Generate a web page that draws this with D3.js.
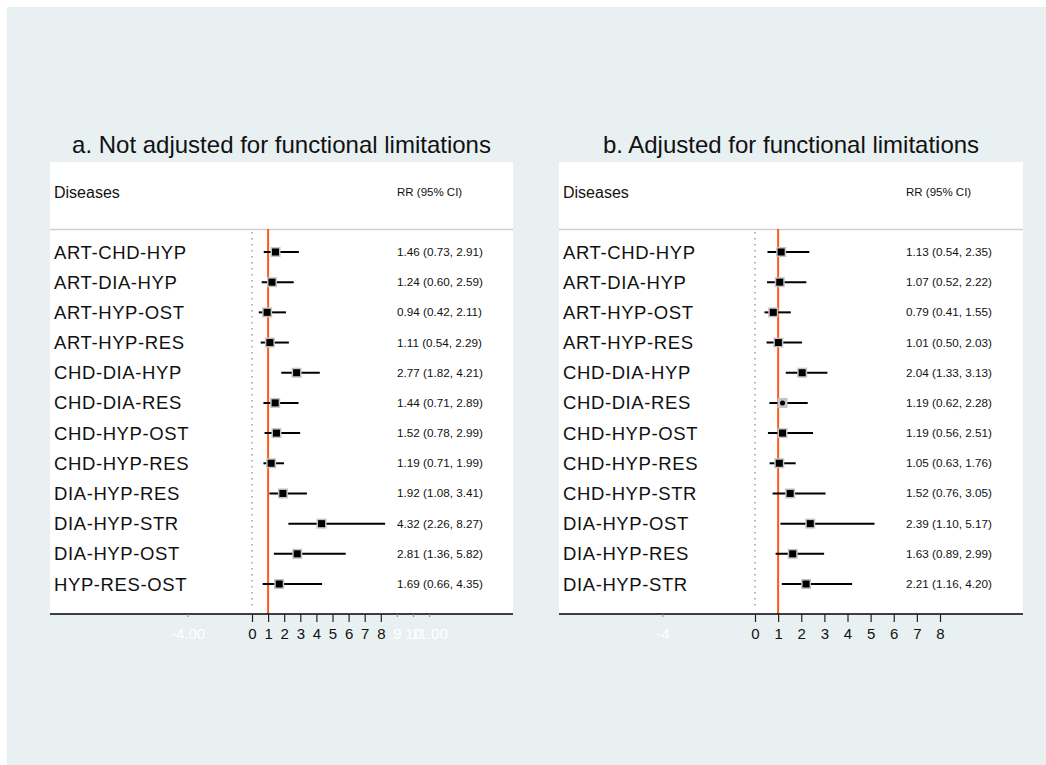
<html>
<head>
<script src="https://d3js.org/d3.v7.min.js"></script>
<style>
  body { margin: 0; background: white; }
  svg text { font-family: "Liberation Sans", Arial, sans-serif; }
</style>
</head>
<body>
<svg width="1046" height="765"></svg>
<script>
// panel a: not adjusted
var diseasesA = ["ART-CHD-HYP","ART-DIA-HYP","ART-HYP-OST","ART-HYP-RES","CHD-DIA-HYP","CHD-DIA-RES",
                 "CHD-HYP-OST","CHD-HYP-RES","DIA-HYP-RES","DIA-HYP-STR","DIA-HYP-OST","HYP-RES-OST"];
var rrA = [1.46,1.24,0.94,1.11,2.77,1.44,1.52,1.19,1.92,4.32,2.81,1.69];
var loA = [0.73,0.60,0.42,0.54,1.82,0.71,0.78,0.71,1.08,2.26,1.36,0.66];
var hiA = [2.91,2.59,2.11,2.29,4.21,2.89,2.99,1.99,3.41,8.27,5.82,4.35];

// panel b: adjusted
var diseasesB = ["ART-CHD-HYP","ART-DIA-HYP","ART-HYP-OST","ART-HYP-RES","CHD-DIA-HYP","CHD-DIA-RES",
                 "CHD-HYP-OST","CHD-HYP-RES","CHD-HYP-STR","DIA-HYP-OST","DIA-HYP-RES","DIA-HYP-STR"];
var rrB = [1.13,1.07,0.79,1.01,2.04,1.19,1.19,1.05,1.52,2.39,1.63,2.21];
var loB = [0.54,0.52,0.41,0.50,1.33,0.62,0.56,0.63,0.76,1.10,0.89,1.16];
var hiB = [2.35,2.22,1.55,2.03,3.13,2.28,2.51,1.76,3.05,5.17,2.99,4.20];

var ticksMain = [0,1,2,3,4,5,6,7,8];
var ticksHiddenA = [-4,9,10,11];
var tickTextA = {"-4":"-4.00","9":"9","10":"10","11":"11.00"};
var ticksHiddenB = [-4];
var tickTextB = {"-4":"-4"};

var svg = d3.select("svg");
var fmt = d3.format(".2f");

svg.append("rect").attr("x",7).attr("y",7).attr("width",1046-7).attr("height",765-7).attr("fill","#e8f0f2");

function panel(opt) {
  var g = svg.append("g");
  var left = opt.left, right = opt.right, top = 162, bottom = 614;
  g.append("rect").attr("x",left).attr("y",top).attr("width",right-left).attr("height",bottom-top).attr("fill","white");

  g.append("text").attr("x",(left+right)/2).attr("y",153).attr("text-anchor","middle")
    .attr("font-size","24px").attr("fill","#111").text(opt.title);

  g.append("text").attr("x",left+4).attr("y",198).attr("font-size","16px").attr("fill","#111").text("Diseases");
  g.append("text").attr("x",opt.textX).attr("y",196).attr("font-size","11.5px").attr("fill","#111").text("RR (95% CI)");

  g.append("line").attr("x1",left).attr("x2",right).attr("y1",229.5).attr("y2",229.5)
    .attr("stroke","#cfcfcf").attr("stroke-width",1.5);

  var x = d3.scaleLinear().domain([0,8]).range(opt.xr);
  var y = d3.scaleLinear().domain([0,11]).range([252,584]);
  var idx = d3.range(opt.names.length);

  // reference lines
  g.append("line").attr("x1",x(0)).attr("x2",x(0)).attr("y1",232).attr("y2",608)
    .attr("stroke","#6f8cab").attr("stroke-width",1.2).attr("stroke-dasharray","1.5,4.5");
  g.append("line").attr("x1",x(1)).attr("x2",x(1)).attr("y1",229).attr("y2",bottom)
    .attr("stroke","#ff5a1e").attr("stroke-width",2);

  // labels
  g.selectAll(".lab").data(idx).enter().append("text")
    .attr("x",left+4).attr("y",function(i){return y(i)+6.5;})
    .attr("font-size","18.5px").attr("letter-spacing","0.6px").attr("fill","#111")
    .text(function(i){return opt.names[i];});
  g.selectAll(".val").data(idx).enter().append("text")
    .attr("x",opt.textX).attr("y",function(i){return y(i)+4;})
    .attr("font-size","11.7px").attr("fill","#111")
    .text(function(i){return fmt(opt.rr[i])+" ("+fmt(opt.lo[i])+", "+fmt(opt.hi[i])+")";});

  // CI lines
  g.selectAll(".ci").data(idx).enter().append("line")
    .attr("x1",function(i){return x(opt.lo[i]);}).attr("x2",function(i){return x(opt.hi[i]);})
    .attr("y1",function(i){return y(i);}).attr("y2",function(i){return y(i);})
    .attr("stroke","black").attr("stroke-width",2);

  // weight boxes + point
  g.selectAll(".box").data(idx).enter().append("rect")
    .attr("x",function(i){return x(opt.rr[i])-5;}).attr("y",function(i){return y(i)-5;})
    .attr("width",10).attr("height",10).attr("fill","#c4c4c4");
  idx.forEach(function(i){
    if (opt.small.indexOf(opt.names[i]) >= 0) {
      g.append("circle").attr("cx",x(opt.rr[i])).attr("cy",y(i)).attr("r",2.5).attr("fill","black");
    } else {
      g.append("rect").attr("x",x(opt.rr[i])-3.5).attr("y",y(i)-3.5).attr("width",7).attr("height",7).attr("fill","black");
    }
  });

  // axis
  g.append("line").attr("x1",left).attr("x2",right).attr("y1",bottom).attr("y2",bottom)
    .attr("stroke","black").attr("stroke-width",1.5);
  var ax = g.append("g").attr("transform","translate(0,"+bottom+")")
    .call(d3.axisBottom(x).tickValues(ticksMain).tickSize(8).tickPadding(6).tickFormat(d3.format("d")));
  ax.select(".domain").remove();
  ax.selectAll("line").attr("stroke","#222").attr("stroke-width",1.2);
  ax.selectAll("text").attr("font-size","15px").attr("fill","#111").style("font-family","Liberation Sans, Arial, sans-serif");

  var ax2 = g.append("g").attr("transform","translate(0,"+bottom+")")
    .call(d3.axisBottom(x).tickValues(opt.hidden).tickSize(3).tickPadding(11)
      .tickFormat(function(d){return opt.hiddenText[d];}));
  ax2.select(".domain").remove();
  ax2.selectAll("line").attr("stroke","#888");
  ax2.selectAll("text").attr("font-size","15px").attr("fill","white").style("font-family","Liberation Sans, Arial, sans-serif");
}

panel({left:50, right:513, xr:[252,380.8], textX:397, title:"a. Not adjusted for functional limitations",
       names:diseasesA, rr:rrA, lo:loA, hi:hiA, small:[], hidden:ticksHiddenA, hiddenText:tickTextA});
panel({left:559, right:1023, xr:[755,940], textX:906, title:"b. Adjusted for functional limitations",
       names:diseasesB, rr:rrB, lo:loB, hi:hiB, small:["CHD-DIA-RES"], hidden:ticksHiddenB, hiddenText:tickTextB});
</script>
</body>
</html>
